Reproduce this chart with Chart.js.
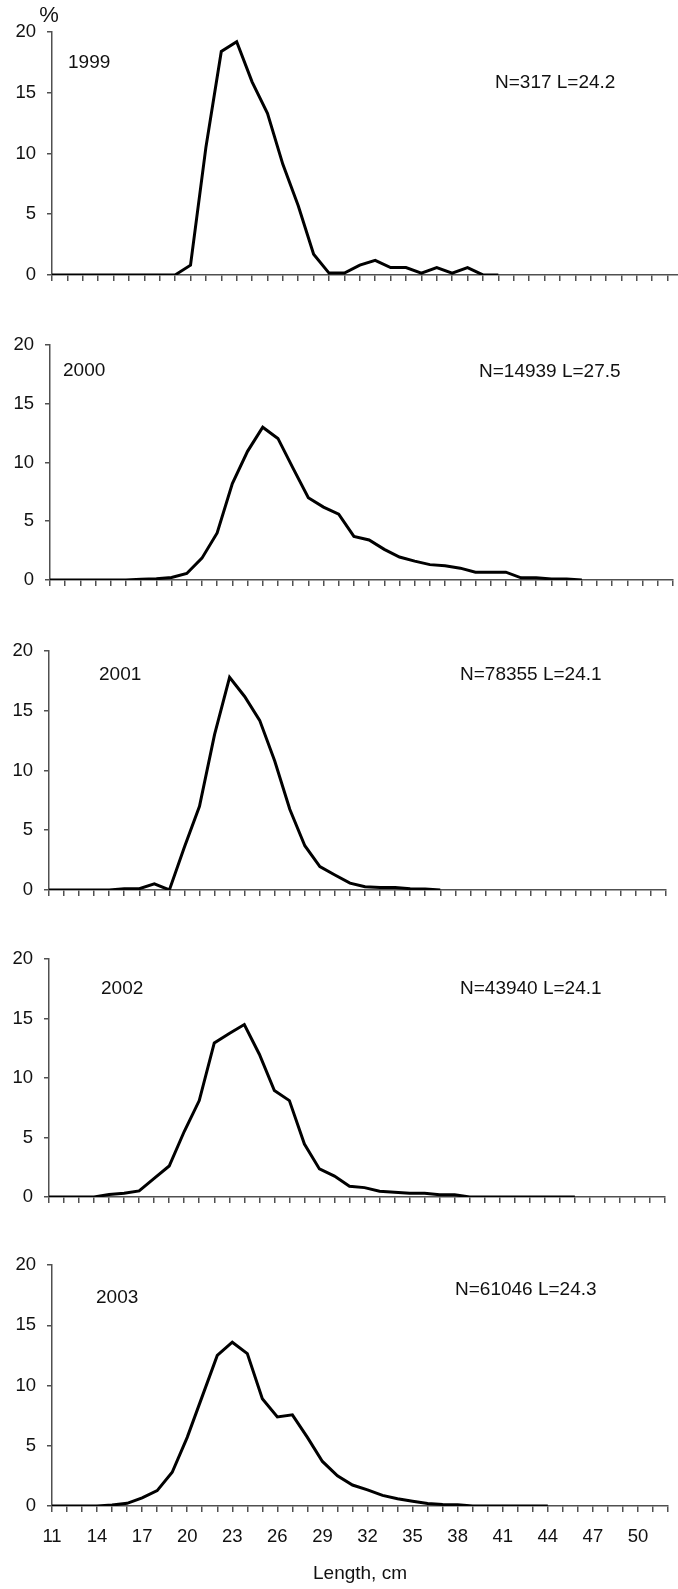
<!DOCTYPE html>
<html>
<head>
<meta charset="utf-8">
<script src="https://cdn.jsdelivr.net/npm/chart.js@4/dist/chart.umd.min.js"></script>
<style>
  html, body { margin: 0; padding: 0; background: #fff; }
  body { width: 678px; height: 1589px; overflow: hidden; position: relative; }
  .panel { position: absolute; left: 0; }
</style>
</head>
<body>
<script>
// length classes, cm
const lengthCm = ['11','12','13','14','15','16','17','18','19','20','21','22','23','24','25','26',
  '27','28','29','30','31','32','33','34','35','36','37','38','39','40','41','42','43','44','45',
  '46','47','48','49','50','51','52'];
const shownTicks = ['11','14','17','20','23','26','29','32','35','38','41','44','47','50'];
const yTicks = [0, 5, 10, 15, 20];

const years = ['1999', '2000', '2001', '2002', '2003'];
const sampleNotes = ['N=317 L=24.2', 'N=14939 L=27.5', 'N=78355 L=24.1', 'N=43940 L=24.1', 'N=61046 L=24.3'];

// % of catch by length class (starting at 11 cm)
const pct1999 = [0,0,0,0,0,0,0,0,0,0.8,10.5,18.4,19.2,15.9,13.3,9.1,5.7,1.7,0.15,0.15,0.8,1.2,0.6,0.6,
  0.15,0.6,0.15,0.6,0,0];
const pct2000 = [0,0,0,0,0,0,0.05,0.1,0.2,0.55,1.85,4.0,8.2,10.95,13.0,12.05,9.5,7.0,6.2,5.6,3.7,3.4,
  2.6,1.95,1.6,1.3,1.2,1.0,0.66,0.66,0.66,0.18,0.18,0.08,0.08,0];
const pct2001 = [0,0,0,0,0,0.1,0.1,0.5,0,3.6,7.0,13.0,17.8,16.2,14.2,10.8,6.75,3.7,1.95,1.25,0.57,0.26,
  0.2,0.2,0.1,0.08,0];
const pct2002 = [0,0,0,0,0.2,0.3,0.5,1.55,2.6,5.5,8.1,12.95,13.75,14.5,12.0,8.95,8.1,4.45,2.35,1.75,0.9,
  0.78,0.47,0.39,0.3,0.3,0.18,0.18,0,0,0,0,0,0,0,0];
const pct2003 = [0,0,0,0,0.08,0.22,0.67,1.28,2.8,5.7,9.1,12.5,13.6,12.65,8.9,7.4,7.57,5.7,3.7,2.5,1.74,
  1.34,0.88,0.61,0.4,0.21,0.13,0.1,0,0,0,0,0,0];
const series = [pct1999, pct2000, pct2001, pct2002, pct2003];

// page geometry of each plot box (x of first/last class, y of 20 and 0)
const frames = [
  { left: 52, right: 683, top: 32, bottom: 285 },
  { left: 50, right: 673, top: 337, bottom: 590 },
  { left: 49, right: 666, top: 643, bottom: 900 },
  { left: 49, right: 665, top: 951, bottom: 1207 },
  { left: 52, right: 668, top: 1257, bottom: 1506 }
];
// label spots on the page: [x, y]
const yearPos = [[68, 63], [63, 371], [99, 675], [101, 989], [96, 1298]];
const notePos = [[495, 83], [479, 372], [460, 675], [460, 989], [455, 1290]];

const FONT = '"Liberation Sans", Arial, sans-serif';
const AXIS = '#505050';
const CANVAS_W = 700;

const labelsPlugin = {
  id: 'panelLabels',
  afterDraw(chart, args, opts) {
    const ctx = chart.ctx;
    ctx.save();
    ctx.fillStyle = '#111';
    ctx.textBaseline = 'middle';
    ctx.textAlign = 'left';
    ctx.font = '19px ' + FONT;
    ctx.fillText(opts.year, opts.yearAt[0], opts.yearAt[1] - opts.offset);
    ctx.fillText(opts.note, opts.noteAt[0], opts.noteAt[1] - opts.offset);
    if (opts.unit) {
      ctx.font = '22px ' + FONT;
      ctx.textAlign = 'center';
      ctx.fillText('%', 49, 16 - opts.offset);
    }
    ctx.restore();
  }
};

frames.forEach((f, i) => {
  const last = i === frames.length - 1;
  const canvasTop = i === 0 ? 0 : f.top - 14;
  const canvasBottom = last ? 1589 : f.bottom + 12;
  const h = canvasBottom - canvasTop;
  const padTop = f.top - canvasTop;
  const xHeight = h - padTop - (f.bottom - f.top);

  const wrap = document.createElement('div');
  wrap.className = 'panel';
  wrap.style.top = canvasTop + 'px';
  wrap.style.width = CANVAS_W + 'px';
  wrap.style.height = h + 'px';
  const canvas = document.createElement('canvas');
  canvas.width = CANVAS_W;
  canvas.height = h;
  canvas.style.width = CANVAS_W + 'px';
  canvas.style.height = h + 'px';
  wrap.appendChild(canvas);
  document.body.appendChild(wrap);

  new Chart(canvas.getContext('2d'), {
    type: 'line',
    data: {
      labels: lengthCm,
      datasets: [{
        data: series[i],
        borderColor: '#000',
        borderWidth: 3,
        pointRadius: 0,
        tension: 0,
        fill: false,
        borderJoinStyle: 'miter'
      }]
    },
    options: {
      responsive: false,
      animation: false,
      events: [],
      layout: { padding: { top: padTop, right: CANVAS_W - f.right, bottom: 0, left: 0 } },
      plugins: {
        legend: { display: false },
        tooltip: { enabled: false },
        panelLabels: {
          year: years[i], note: sampleNotes[i],
          yearAt: yearPos[i], noteAt: notePos[i],
          offset: canvasTop, unit: i === 0
        }
      },
      scales: {
        x: {
          type: 'category',
          offset: false,
          afterFit: s => { s.height = xHeight; },
          border: { color: AXIS, width: 1.5 },
          grid: { drawOnChartArea: false, drawTicks: true, tickLength: 6, color: AXIS, lineWidth: 1.5 },
          ticks: {
            display: last,
            autoSkip: false,
            maxRotation: 0,
            padding: 14,
            color: '#111',
            font: { family: FONT, size: 18.5 },
            callback: function (v) {
              const l = this.getLabelForValue(v);
              return shownTicks.includes(l) ? l : '';
            }
          },
          title: {
            display: last,
            text: 'Length, cm',
            color: '#111',
            font: { family: FONT, size: 19 },
            padding: { top: 0, bottom: 4 }
          }
        },
        y: {
          min: 0,
          max: 20,
          afterFit: s => { s.width = f.left; },
          afterBuildTicks: s => { s.ticks = yTicks.map(v => ({ value: v })); },
          border: { color: AXIS, width: 1.5 },
          grid: { drawOnChartArea: false, drawTicks: true, tickLength: 5, color: AXIS, lineWidth: 1.5 },
          ticks: {
            padding: 11,
            color: '#111',
            font: { family: FONT, size: 18.5 }
          }
        }
      }
    },
    plugins: [labelsPlugin]
  });
});
</script>
</body>
</html>
